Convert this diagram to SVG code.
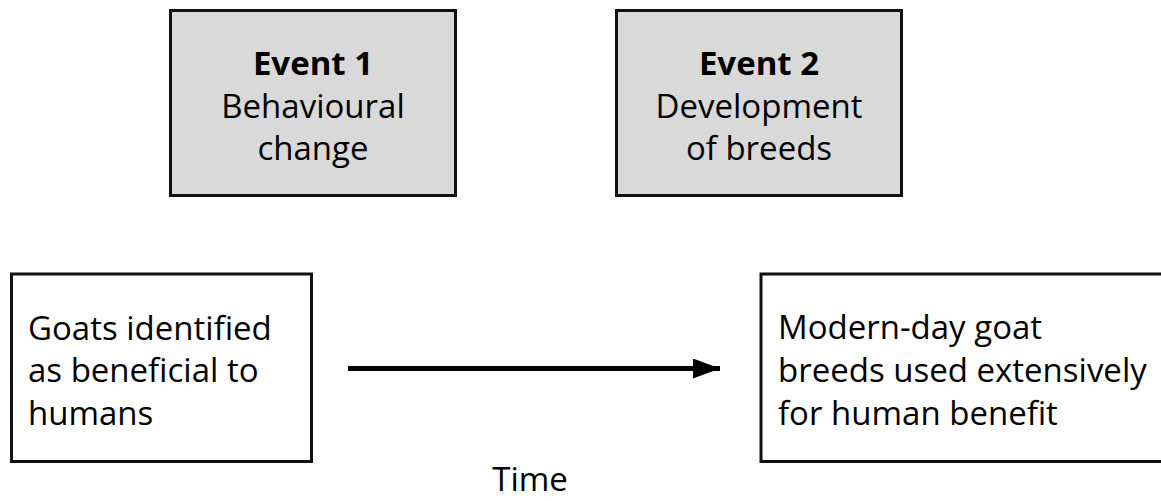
<svg xmlns="http://www.w3.org/2000/svg" width="1161" height="501" viewBox="0 0 1161 501">
  <defs>
    <style>
      .box { stroke: #111; stroke-width: 3; }
      .event { fill: #d9d9d9; }
      .plain { fill: #ffffff; }
      text { font-family: "Open Sans", "Noto Sans", "Liberation Sans", sans-serif; font-size: 33px; fill: #000; }
      .b { font-weight: bold; }
      .c { text-anchor: middle; }
    </style>
    <marker id="ah" markerWidth="27" markerHeight="20" refX="27" refY="10" orient="auto" markerUnits="userSpaceOnUse">
      <path d="M0,0 L27,10 L0,20 Z" fill="#000"/>
    </marker>
  </defs>
  <rect width="1161" height="501" fill="#ffffff"/>
  <g id="event1">
    <rect class="box event" x="170.5" y="10.5" width="285" height="185"/>
    <text class="c b" x="313" y="75">Event 1</text>
    <text class="c" x="313" y="118">Behavioural</text>
    <text class="c" x="313" y="160">change</text>
  </g>
  <g id="event2">
    <rect class="box event" x="616.5" y="10.5" width="285" height="185"/>
    <text class="c b" x="759" y="75">Event 2</text>
    <text class="c" x="759" y="118">Development</text>
    <text class="c" x="759" y="160">of breeds</text>
  </g>
  <g id="start">
    <rect class="box plain" x="11.5" y="274" width="300" height="187.5"/>
    <text x="28" y="340">Goats identified</text>
    <text x="28" y="382">as beneficial to</text>
    <text x="28" y="425">humans</text>
  </g>
  <g id="end">
    <rect class="box plain" x="761" y="274" width="420" height="187.5"/>
    <text x="778" y="339">Modern-day goat</text>
    <text x="778" y="382">breeds used extensively</text>
    <text x="778" y="425">for human benefit</text>
  </g>
  <g id="connectors">
    <line x1="348" y1="368.5" x2="720" y2="368.5" stroke="#000" stroke-width="5" marker-end="url(#ah)"/>
  </g>
  <g id="time-label">
    <text class="c" x="530" y="491">Time</text>
  </g>
</svg>
